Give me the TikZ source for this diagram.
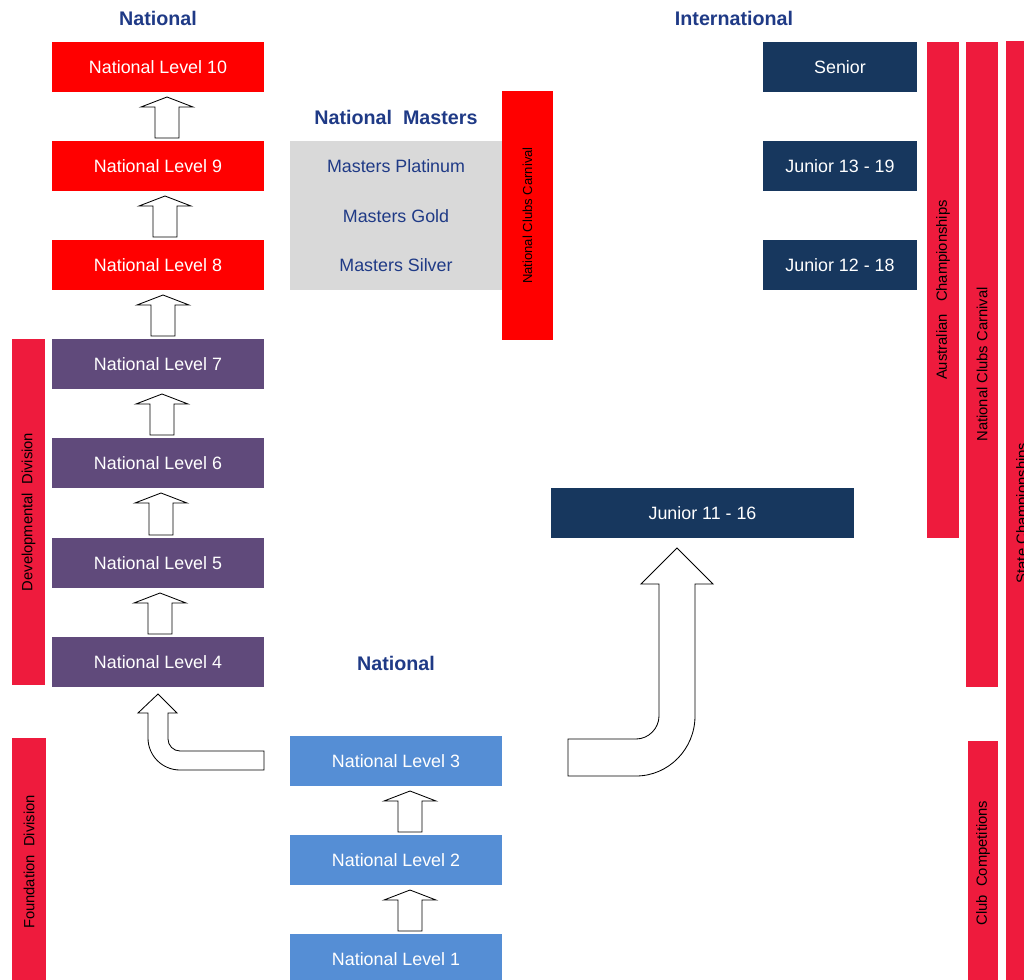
\documentclass[tikz,border=0pt]{standalone}
\usepackage{fontspec}
\setmainfont{Liberation Sans}
\usetikzlibrary{shapes.geometric}
\usepackage{xcolor}

\definecolor{lvlred}{HTML}{FF0000}
\definecolor{lvlpurple}{HTML}{604A7B}
\definecolor{lvlblue}{HTML}{558ED5}
\definecolor{intnavy}{HTML}{17375E}
\definecolor{mastgrey}{HTML}{D9D9D9}
\definecolor{barred}{HTML}{EE1B3D}
\definecolor{headblue}{HTML}{1F3A86}

\tikzset{
  levelbox/.style={shape=rectangle,
    inner sep=0pt,
    text=white,
    minimum width=5.3cm,
    minimum height=1.25cm,
    font=\fontsize{12.7}{15}\selectfont},
  intbox/.style={levelbox,
    fill=intnavy,
    minimum width=3.85cm},
  sidebar/.style={shape=rectangle,
    inner sep=0pt,
    fill=barred,
    rotate=90,
    font=\fontsize{10.5}{12}\selectfont},
  heading/.style={text=headblue,
    font=\fontsize{14}{16}\selectfont\bfseries},
  masterstext/.style={text=headblue,
    font=\fontsize{12.7}{15}\selectfont},
  blockarrow/.style={draw=black, fill=white, line width=0.6pt, line join=miter}
}

\begin{document}
\begin{tikzpicture}[x=0.025cm,y=-0.025cm]
    \useasboundingbox (0,0) rectangle (1024,979);
    \clip (0,0) rectangle (1024,979);
    %\draw[help lines,step=50] (0,0) grid (1024,979); % Only for Development

    % headings
    \node[heading] (natlhead) at (158,18) {National};
    \node[heading] (inthead) at (734,18) {International};
    \node[heading] (masthead) at (396,117) {National\ \ Masters};
    \node[heading] (lowhead) at (396,663) {National};

    % national levels
    \node[levelbox, fill=lvlred] (lvl10) at (158,67) {National Level 10};
    \node[levelbox, fill=lvlred] (lvl9) at (158,166) {National Level 9};
    \node[levelbox, fill=lvlred] (lvl8) at (158,265) {National Level 8};
    \node[levelbox, fill=lvlpurple] (lvl7) at (158,364) {National Level 7};
    \node[levelbox, fill=lvlpurple] (lvl6) at (158,463) {National Level 6};
    \node[levelbox, fill=lvlpurple] (lvl5) at (158,563) {National Level 5};
    \node[levelbox, fill=lvlpurple] (lvl4) at (158,662) {National Level 4};
    \node[levelbox, fill=lvlblue] (lvl3) at (396,761) {National Level 3};
    \node[levelbox, fill=lvlblue] (lvl2) at (396,860) {National Level 2};
    \node[levelbox, fill=lvlblue] (lvl1) at (396,959) {National Level 1};

    % masters
    \node[shape=rectangle,
      inner sep=0pt,
      fill=mastgrey,
      minimum width=5.3cm,
      minimum height=3.725cm] (masters) at (396,215.5) {};
    \node[masterstext] (mplat) at (396,166) {Masters Platinum};
    \node[masterstext] (mgold) at (396,216) {Masters Gold};
    \node[masterstext] (msilver) at (396,265) {Masters Silver};
    \node[sidebar,
      fill=lvlred,
      minimum width=6.225cm,
      minimum height=1.275cm,
      font=\fontsize{9.3}{11}\selectfont] (mcarnival) at (527.5,215.5) {National Clubs Carnival};

    % international
    \node[intbox] (senior) at (840,67) {Senior};
    \node[intbox] (jun1319) at (840,166) {Junior 13 - 19};
    \node[intbox] (jun1218) at (840,265) {Junior 12 - 18};
    \node[intbox, minimum width=7.575cm] (jun1116) at (702.5,513) {Junior 11 - 16};

    % side bars
    \node[sidebar, minimum width=8.65cm, minimum height=0.825cm] (devdiv) at (28.5,512) {Developmental\ \ Division};
    \node[sidebar, minimum width=6.2cm, minimum height=0.85cm] (founddiv) at (29,862) {Foundation\ \ Division};
    \node[sidebar, minimum width=12.4cm, minimum height=0.8cm] (ausch) at (943,290) {Australian\ \ \ Championships};
    \node[sidebar, minimum width=16.125cm, minimum height=0.8cm] (clubcarn) at (982,364.5) {National Clubs Carnival};
    \node[sidebar, minimum width=23.6cm, minimum height=0.85cm] (statech) at (1023,513) {State\ Championships};
    \node[sidebar, minimum width=6.1cm, minimum height=0.75cm] (clubcomp) at (983,863) {Club\ \ Competitions};

    % straight block arrows (centre x / upper box bottom / lower box top)
    \foreach \cx/\ty/\by in {167/92/141, 165/191/240, 163/290/339, 162/389/438,
                             161/488/538, 160/588/637, 410/786/835, 410/885/934}
      \draw[blockarrow] (\cx-12,\by-3) -- (\cx-12,\ty+15) -- (\cx-26,\ty+15) --
        (\cx,\ty+5) -- (\cx+26,\ty+15) -- (\cx+12,\ty+15) -- (\cx+12,\by-3) -- cycle;

    % bent arrow to level 4
    \draw[blockarrow]
      (264,770) -- (264,751) -- (180,751) .. controls (173.4,751) and (168,745.6) .. (168,739) --
      (168,713) -- (177,713) -- (158,694) -- (138,713) -- (148,713) --
      (148,738) .. controls (148,755.7) and (162.3,770) .. (180,770) -- cycle;

    % bent arrow to junior 11 - 16
    \draw[blockarrow]
      (568,739) -- (636,739) .. controls (648.7,739) and (659,728.3) .. (659,716) --
      (659,584) -- (641,584) -- (677,548) -- (713,584) -- (695,584) --
      (695,716) .. controls (695,749) and (668.6,776) .. (636,776) -- (568,776) -- cycle;

\end{tikzpicture}
\end{document}
